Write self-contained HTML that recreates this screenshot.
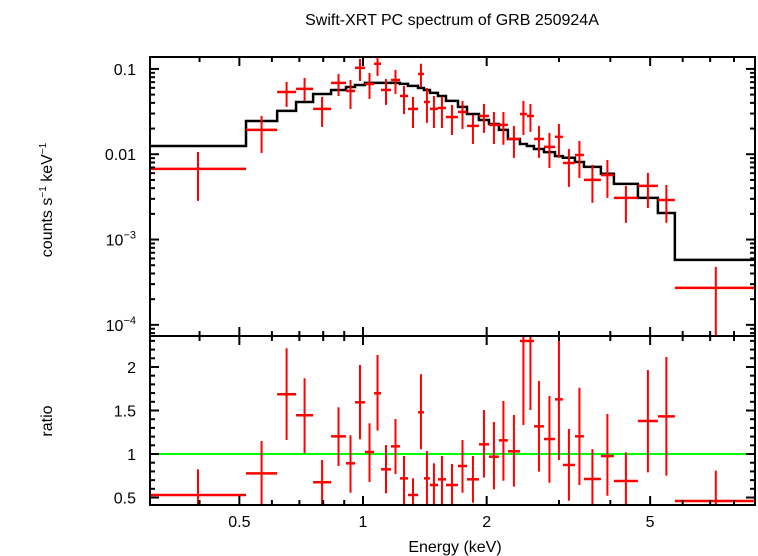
<!DOCTYPE html>
<html><head><meta charset="utf-8">
<style>
html,body{margin:0;padding:0;background:#fff;}
svg{display:block;font-family:"Liberation Sans",Arial,sans-serif;}
</style></head>
<body>
<svg id="chart" width="758" height="556" viewBox="0 0 758 556" xmlns="http://www.w3.org/2000/svg">
<text x="452" y="25" font-size="16" text-anchor="middle">Swift-XRT PC spectrum of GRB 250924A</text>
<text transform="translate(52,200) rotate(-90)" font-size="16" text-anchor="middle">counts s<tspan font-size="10" dy="-6">−1</tspan><tspan dy="6"> keV</tspan><tspan font-size="10" dy="-6">−1</tspan></text>
<text transform="translate(52,421) rotate(-90)" font-size="16" text-anchor="middle">ratio</text>
<text x="455" y="552" font-size="16" text-anchor="middle">Energy (keV)</text>
<g id="plot"></g>
</svg>
<script>
// ---- data ----
const binEdges = [0.303,0.519,0.618,0.687,0.756,0.836,0.909,0.956,1.011,1.064,1.106,1.170,1.230,1.287,1.361,1.407,1.455,1.522,1.592,1.703,1.791,1.915,2.026,2.142,2.253,2.410,2.506,2.607,2.757,2.933,3.066,3.280,3.450,3.794,4.081,4.669,5.222,5.743,9.09];
const rates = [0.00673,0.0193,0.0537,0.0583,0.0340,0.0686,0.0552,0.103,0.0667,0.115,0.0567,0.0743,0.0482,0.0340,0.0873,0.0410,0.0340,0.0349,0.0273,0.0313,0.0215,0.0281,0.0221,0.0221,0.0151,0.0296,0.0281,0.0151,0.0122,0.0160,0.0079,0.0098,0.0050,0.0057,0.00308,0.00425,0.00291,0.000271];
const rateHi = [0.01064,0.0281,0.0705,0.0784,0.0470,0.0873,0.0743,0.131,0.0898,0.146,0.0763,0.0973,0.0632,0.0470,0.115,0.0598,0.0482,0.0470,0.0379,0.0422,0.0289,0.0389,0.0313,0.0313,0.0215,0.0422,0.0389,0.0215,0.0178,0.0226,0.0115,0.0143,0.0075,0.00857,0.00425,0.00604,0.00436,0.000478];
const rateLo = [0.00284,0.01035,0.0359,0.0422,0.0209,0.0482,0.0340,0.0723,0.0445,0.0828,0.0379,0.0509,0.0296,0.0203,0.0615,0.0233,0.0203,0.0203,0.0168,0.0198,0.0132,0.0178,0.0132,0.0129,0.00906,0.0168,0.0183,0.00906,0.0069,0.00906,0.00414,0.00527,0.00269,0.00308,0.00157,0.00234,0.00157,0.00001];
const model = [0.0125,0.0245,0.0322,0.0410,0.0509,0.0567,0.0615,0.0649,0.0686,0.0686,0.0686,0.0686,0.0667,0.0632,0.0598,0.0567,0.0524,0.0482,0.0422,0.0359,0.0296,0.0252,0.0226,0.0193,0.0151,0.0132,0.0125,0.0115,0.0106,0.0095,0.0091,0.0081,0.0071,0.0059,0.0045,0.00308,0.00205,0.000577];
const ratio = [0.529,0.778,1.686,1.445,0.675,1.203,0.893,1.594,1.023,1.698,0.824,1.088,0.720,0.529,1.479,0.720,0.644,0.709,0.644,0.862,0.709,1.111,0.969,1.157,1.031,2.299,2.299,1.318,1.172,1.628,0.874,1.203,0.713,0.977,0.690,1.379,1.433,0.460];
const ratioHi = [0.824,1.149,2.215,1.870,0.931,1.537,1.215,2.023,1.353,2.138,1.103,1.402,0.977,0.720,1.916,1.034,0.893,0.977,0.885,1.161,0.977,1.506,1.368,1.609,1.448,2.6,2.6,1.839,1.667,2.6,1.287,1.762,1.057,1.460,1.019,1.966,2.115,0.809];
const ratioLo = [0.2,0.40,1.161,1.008,0.40,0.862,0.555,1.169,0.678,1.268,0.548,0.770,0.40,0.40,1.054,0.40,0.40,0.40,0.40,0.555,0.44,0.728,0.594,0.693,0.625,1.333,1.506,0.797,0.670,0.931,0.463,0.644,0.40,0.521,0.40,0.789,0.751,0.2];
const xTickMajor = [0.5,1,2,5];
const xTickLabels = ["0.5","1","2","5"];
const xTickMinor = [0.4,0.6,0.7,0.8,0.9,3,4,6,7,8,9];
const ratioTickMajor = [0.5,1,1.5,2];
const ratioTickLabels = ["0.5","1","1.5","2"];

// ---- geometry ----
const L=150,R=755,T1=57,B1=336,T2=336,B2=505;
const xMin=0.303,xMax=9.0, y1Min=7.4e-5,y1Max=0.138, y2Min=0.414,y2Max=2.356;
const lg=Math.log10;
const X=e=>L+(lg(e)-lg(xMin))/(lg(xMax)-lg(xMin))*(R-L);
const Y1=v=>B1-(lg(v)-lg(y1Min))/(lg(y1Max)-lg(y1Min))*(B1-T1);
const Y2=v=>B2-(v-y2Min)/(y2Max-y2Min)*(B2-T2);
const NS="http://www.w3.org/2000/svg";
const plotG=document.getElementById('plot');
function mk(tag,attrs,parent){const el=document.createElementNS(NS,tag);for(const k in attrs)el.setAttribute(k,attrs[k]);(parent||plotG).appendChild(el);return el;}
function line(x1,y1,x2,y2,stroke,w,parent){return mk('line',{x1,y1,x2,y2,stroke,'stroke-width':w},parent);}

const defs=mk('defs',{});
const c1=mk('clipPath',{id:'c1'},defs);mk('rect',{x:L,y:T1,width:R-L,height:B1-T1},c1);
const c2=mk('clipPath',{id:'c2'},defs);mk('rect',{x:L,y:T2,width:R-L,height:B2-T2},c2);

// top panel series
const topG=mk('g',{'clip-path':'url(#c1)'});


let d='';
for(let i=0;i<model.length;i++){const xa=X(binEdges[i]),xb=X(binEdges[i+1]),y=Y1(model[i]);d+=(i===0?'M':'L')+xa+','+y+' L'+xb+','+y+' ';}
const mp=mk('path',{d,fill:'none',stroke:'#000','stroke-width':2.5},topG);


for(let i=0;i<rates.length;i++){
  const xc=Math.sqrt(binEdges[i]*binEdges[i+1]);
  const grp=mk('g',{},topG);
  
  
  line(X(binEdges[i]),Y1(rates[i]),X(binEdges[i+1]),Y1(rates[i]),'#f00',2.5,grp);
  line(X(xc),Y1(rateHi[i]),X(xc),Y1(rateLo[i]),'#f00',2,grp);
}
// bottom panel
const botG=mk('g',{'clip-path':'url(#c2)'});


const gl=line(L,Y2(1),R,Y2(1),'#0f0',2,botG);


for(let i=0;i<ratio.length;i++){
  const xc=Math.sqrt(binEdges[i]*binEdges[i+1]);
  const grp=mk('g',{},botG);
  
  
  line(X(binEdges[i]),Y2(ratio[i]),X(binEdges[i+1]),Y2(ratio[i]),'#f00',2.5,grp);
  line(X(xc),Y2(ratioHi[i]),X(xc),Y2(ratioLo[i]),'#f00',2,grp);
}
// frames
const f1=mk('rect',{x:L,y:T1,width:R-L,height:B1-T1,fill:'none',stroke:'#000','stroke-width':2});


const f2=mk('rect',{x:L,y:T2,width:R-L,height:B2-T2,fill:'none',stroke:'#000','stroke-width':2});


// x ticks
const ax=mk('g',{});


xTickMajor.forEach((v,i)=>{const x=X(v);
  [[T1,1],[B1,-1],[T2,1],[B2,-1]].forEach(([y,s])=>line(x,y,x,y+s*9,'#000',2,ax));
  const t=mk('text',{x,y:527,'font-size':16,'text-anchor':'middle'},ax);t.textContent=xTickLabels[i];
  
  
});
xTickMinor.forEach(v=>{const x=X(v);
  [[T1,1],[B1,-1],[T2,1],[B2,-1]].forEach(([y,s])=>line(x,y,x,y+s*5,'#000',2,ax));
});
// top y ticks
const ay=mk('g',{});


for(let e=-5;e<=-1;e++){for(let m=1;m<10;m++){const v=m*Math.pow(10,e);if(v<y1Min||v>y1Max)continue;const y=Y1(v);const len=m===1?9:5;
  line(L,y,L+len,y,'#000',2,ay);line(R,y,R-len,y,'#000',2,ay);}}
[[0.1,'0.1'],[0.01,'0.01']].forEach(([v,s])=>{const t=mk('text',{x:136,y:Y1(v)+6,'font-size':16,'text-anchor':'end'},ay);t.textContent=s;
  
  });
[[1e-3,'−3'],[1e-4,'−4']].forEach(([v,s])=>{const t=mk('text',{x:136,y:Y1(v)+6,'font-size':16,'text-anchor':'end'},ay);
  t.appendChild(document.createTextNode('10'));
  const ts=mk('tspan',{'font-size':11,dy:-7},t);ts.textContent=s;
  
  });
// bottom y ticks
const ay2=mk('g',{});


for(let k=5;k<=23;k++){const v=k/10;const y=Y2(v);const len=(k%5===0)?9:5;line(L,y,L+len,y,'#000',2,ay2);line(R,y,R-len,y,'#000',2,ay2);}
ratioTickMajor.forEach((v,i)=>{const t=mk('text',{x:136,y:Y2(v)+6,'font-size':16,'text-anchor':'end'},ay2);t.textContent=ratioTickLabels[i];
  
  });
</script>
</body></html>
